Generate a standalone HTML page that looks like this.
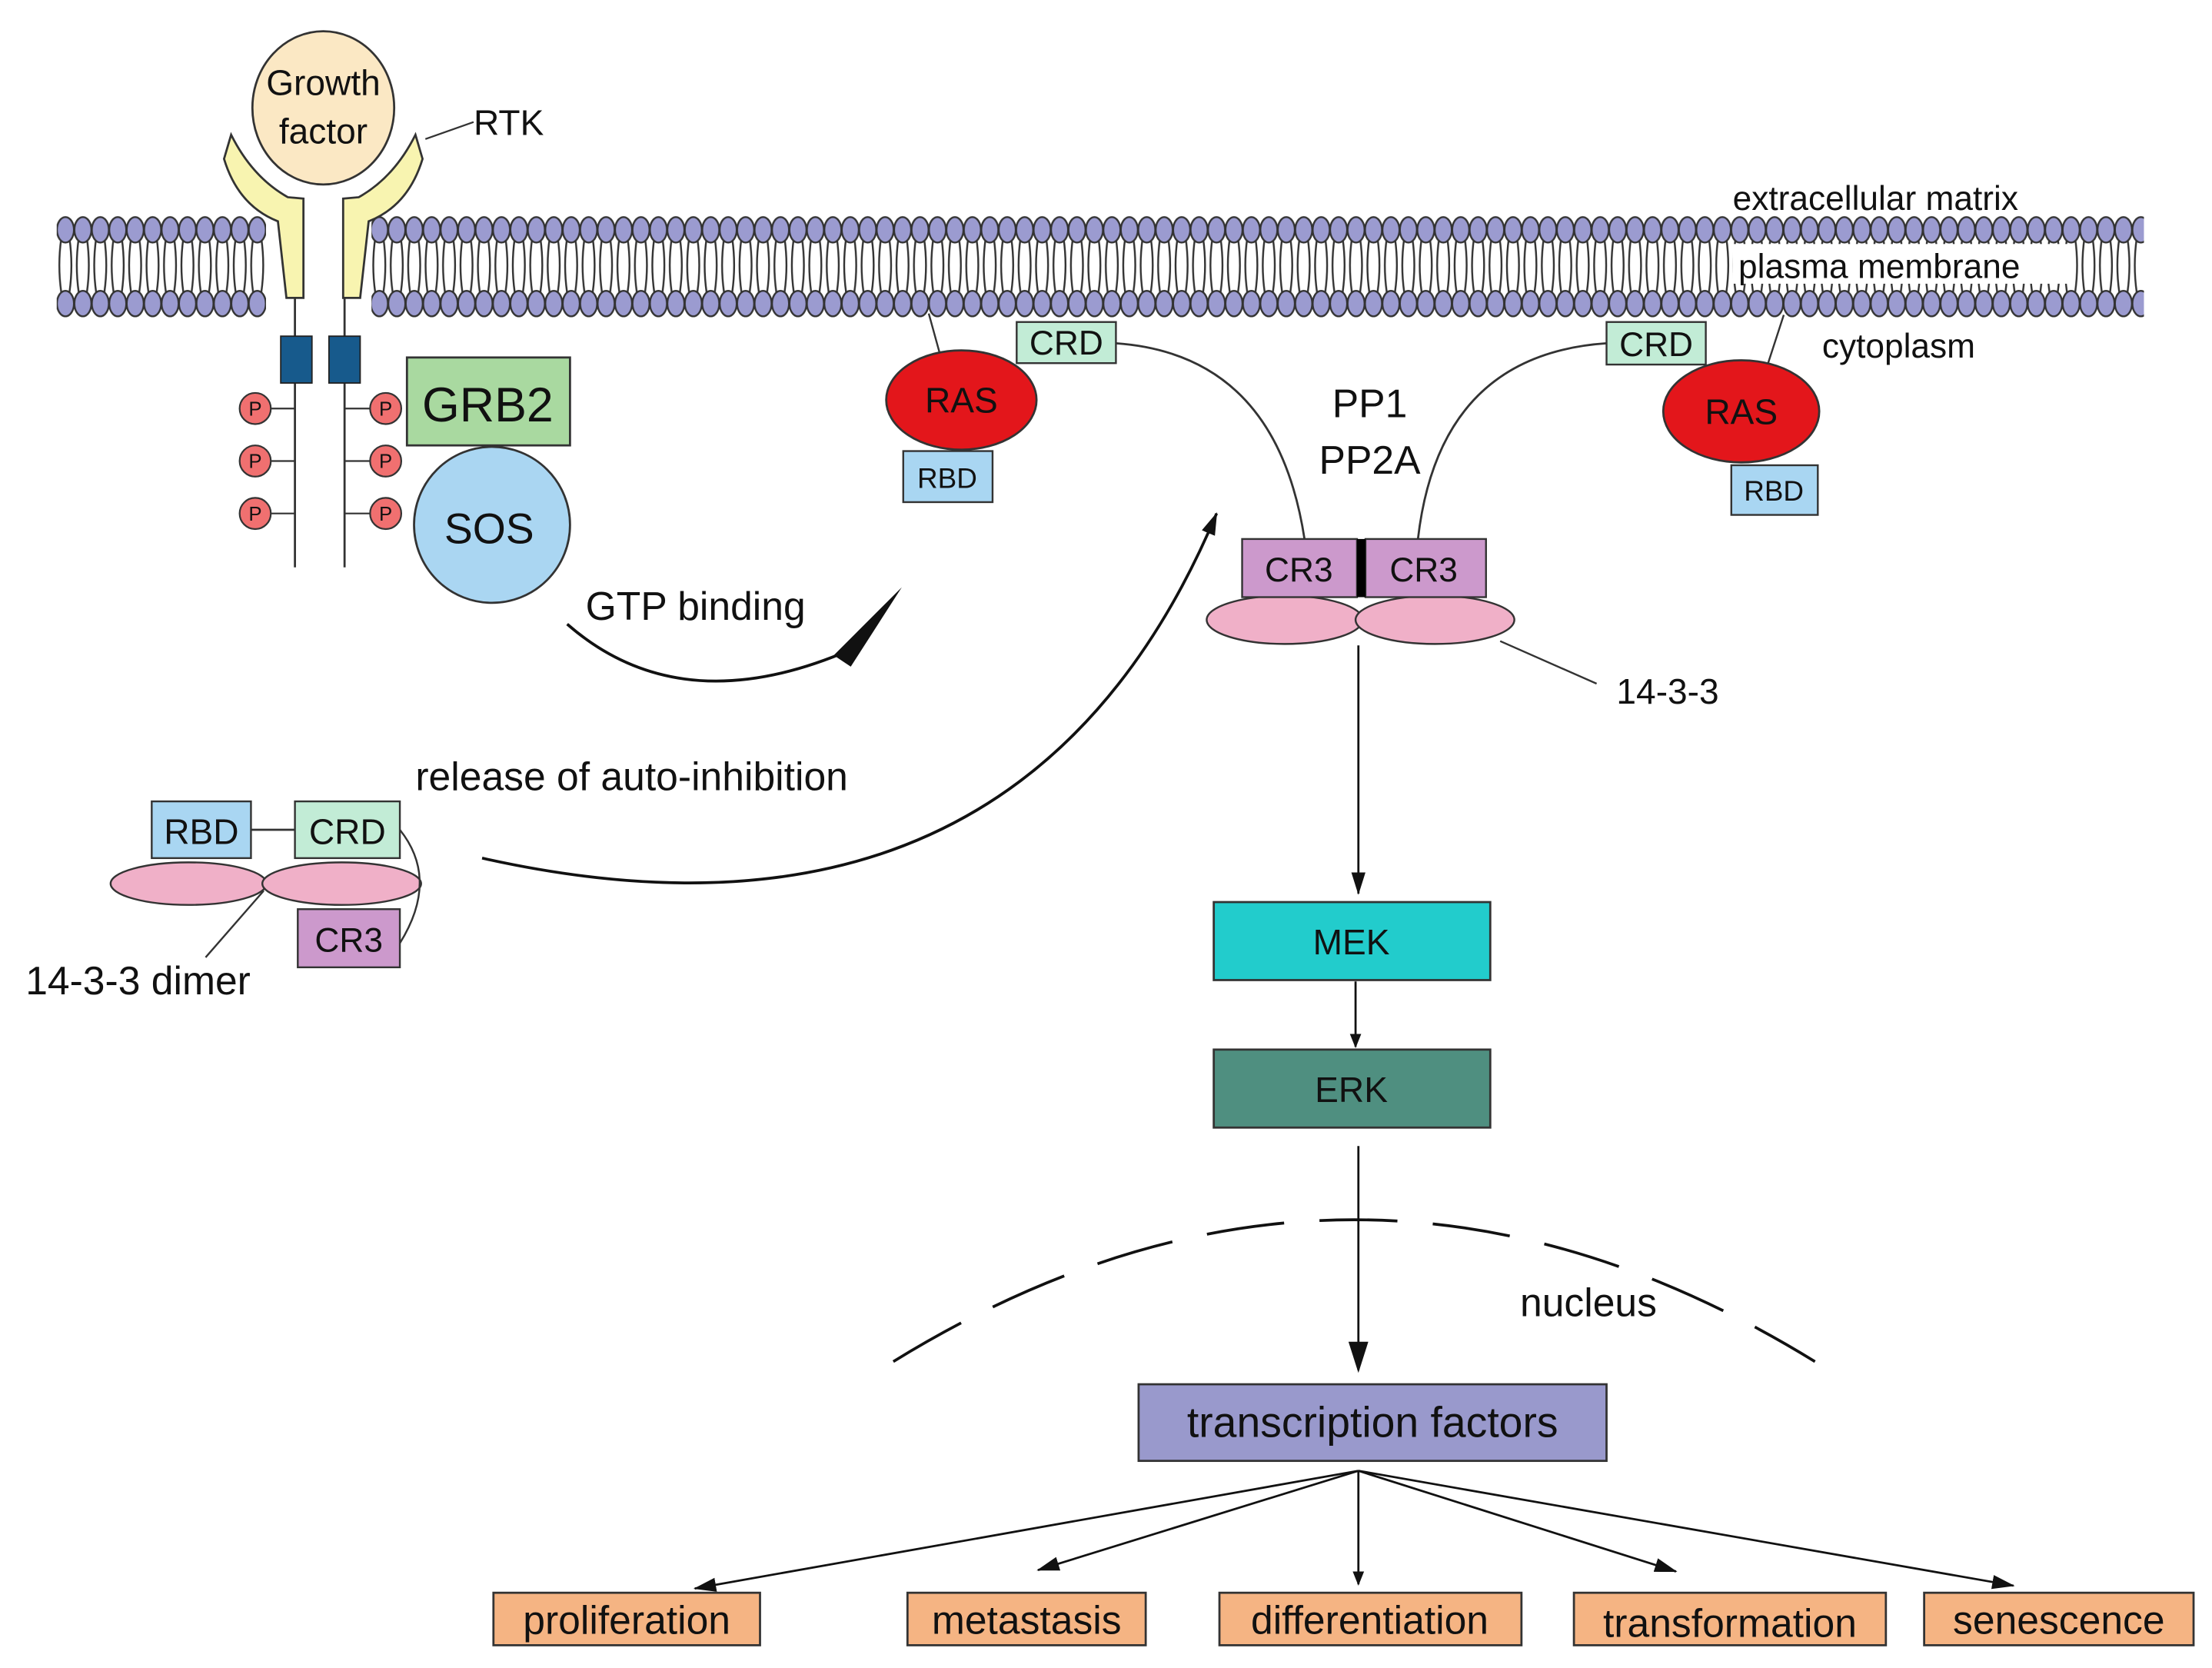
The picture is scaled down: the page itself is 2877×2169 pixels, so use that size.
<!DOCTYPE html>
<html><head><meta charset="utf-8"><style>
html,body{margin:0;padding:0;background:#fff}
svg{display:block}
text{font-family:"Liberation Sans",Arial,sans-serif;fill:#111}
</style></head><body>
<svg width="2877" height="2169" viewBox="0 0 1560 1176" xmlns="http://www.w3.org/2000/svg">
<defs>
<pattern id="mem" x="40" y="150" width="12.3" height="76" patternUnits="userSpaceOnUse">
<path d="M3.2 18 Q0.5 37 3.2 56 M9 18 Q11.7 37 9 56" fill="none" stroke="#333" stroke-width="1.3"/>
<ellipse cx="6.15" cy="12" rx="6" ry="9" fill="#9b9bd0" stroke="#333" stroke-width="1.3"/>
<ellipse cx="6.15" cy="64" rx="6" ry="9" fill="#9b9bd0" stroke="#333" stroke-width="1.3"/>
</pattern>
<marker id="ah" markerWidth="10" markerHeight="10" refX="9" refY="5" orient="auto" markerUnits="userSpaceOnUse"><path d="M0 1 L10 5 L0 9z" fill="#111"/></marker>
<marker id="ahb" markerWidth="22" markerHeight="14" refX="20" refY="7" orient="auto" markerUnits="userSpaceOnUse"><path d="M0 0 L22 7 L0 14z" fill="#111"/></marker>
<marker id="ahm" markerWidth="16" markerHeight="10" refX="15" refY="5" orient="auto" markerUnits="userSpaceOnUse"><path d="M0 0 L16 5 L0 10z" fill="#111"/></marker>
</defs>
<rect x="40" y="150" width="147.6" height="76" fill="url(#mem)"/>
<rect x="262" y="150" width="1250" height="76" fill="url(#mem)"/>
<text x="1222" y="148" font-size="24">extracellular matrix</text>
<rect x="1222" y="172" width="240" height="28" fill="#fff"/>
<text x="1226" y="196" font-size="24">plasma membrane</text>
<text x="1285" y="252" font-size="24">cytoplasm</text>
<path d="M163 95 L158 112 Q168 145 196 156 L202 210 L214 210 L214 140 L203 139 Q178 125 163 95z" fill="#f8f4b0" stroke="#333" stroke-width="1.5"/>
<path d="M293 95 L298 112 Q288 145 260 156 L254 210 L242 210 L242 140 L253 139 Q278 125 293 95z" fill="#f8f4b0" stroke="#333" stroke-width="1.5"/>
<ellipse cx="228" cy="76" rx="50" ry="54" fill="#fbe8c4" stroke="#333" stroke-width="1.5"/>
<text x="228" y="67" font-size="25" text-anchor="middle">Growth</text>
<text x="228" y="101" font-size="25" text-anchor="middle">factor</text>
<line x1="300" y1="98" x2="334" y2="86" stroke="#333" stroke-width="1.2"/>
<text x="334" y="95" font-size="25">RTK</text>
<line x1="208" y1="210" x2="208" y2="400" stroke="#333" stroke-width="1.5"/>
<line x1="243" y1="210" x2="243" y2="400" stroke="#333" stroke-width="1.5"/>
<rect x="198" y="237" width="22" height="33" fill="#175a8c" stroke="#222"/>
<rect x="232" y="237" width="22" height="33" fill="#175a8c" stroke="#222"/>
<g stroke="#333" stroke-width="1.2">
<line x1="190" y1="288" x2="208" y2="288"/><line x1="190" y1="325" x2="208" y2="325"/><line x1="190" y1="362" x2="208" y2="362"/>
<line x1="243" y1="288" x2="262" y2="288"/><line x1="243" y1="325" x2="262" y2="325"/><line x1="243" y1="362" x2="262" y2="362"/>
</g>
<g fill="#f07070" stroke="#333" stroke-width="1.2">
<circle cx="180" cy="288" r="11"/><circle cx="180" cy="325" r="11"/><circle cx="180" cy="362" r="11"/>
<circle cx="272" cy="288" r="11"/><circle cx="272" cy="325" r="11"/><circle cx="272" cy="362" r="11"/>
</g>
<g font-size="14" text-anchor="middle">
<text x="180" y="293">P</text><text x="180" y="330">P</text><text x="180" y="367">P</text>
<text x="272" y="293">P</text><text x="272" y="330">P</text><text x="272" y="367">P</text>
</g>
<rect x="287" y="252" width="115" height="62" fill="#a9d9a0" stroke="#333" stroke-width="1.5"/>
<text x="344" y="297" font-size="34" text-anchor="middle">GRB2</text>
<circle cx="347" cy="370" r="55" fill="#aad6f2" stroke="#333" stroke-width="1.5"/>
<text x="345" y="383" font-size="30" text-anchor="middle">SOS</text>
<path d="M400 440 Q480 510 600 458" fill="none" stroke="#111" stroke-width="2"/>
<path d="M588 462 L636 414 L600 470z" fill="#111"/>
<text x="413" y="437" font-size="28">GTP binding</text>
<line x1="663" y1="250" x2="655" y2="221" stroke="#333" stroke-width="1.3"/>
<ellipse cx="678" cy="282" rx="53" ry="35" fill="#e3161b" stroke="#333" stroke-width="1.5"/>
<text x="678" y="291" font-size="25" text-anchor="middle">RAS</text>
<rect x="717" y="227" width="70" height="29" fill="#c2ecd6" stroke="#333" stroke-width="1.3"/>
<text x="752" y="250" font-size="24" text-anchor="middle">CRD</text>
<rect x="637" y="318" width="63" height="36" fill="#a9d6f2" stroke="#333" stroke-width="1.3"/>
<text x="668" y="344" font-size="20" text-anchor="middle">RBD</text>
<line x1="1245" y1="262" x2="1258" y2="222" stroke="#333" stroke-width="1.3"/>
<rect x="1133" y="227" width="70" height="30" fill="#c2ecd6" stroke="#333" stroke-width="1.3"/>
<text x="1168" y="251" font-size="24" text-anchor="middle">CRD</text>
<ellipse cx="1228" cy="290" rx="55" ry="36" fill="#e3161b" stroke="#333" stroke-width="1.5"/>
<text x="1228" y="299" font-size="25" text-anchor="middle">RAS</text>
<rect x="1221" y="328" width="61" height="35" fill="#a9d6f2" stroke="#333" stroke-width="1.3"/>
<text x="1251" y="353" font-size="20" text-anchor="middle">RBD</text>
<path d="M787 242 Q900 250 920 380" fill="none" stroke="#333" stroke-width="1.5"/>
<path d="M1000 380 Q1015 250 1133 242" fill="none" stroke="#333" stroke-width="1.5"/>
<text x="966" y="294" font-size="28" text-anchor="middle">PP1</text>
<text x="966" y="334" font-size="28" text-anchor="middle">PP2A</text>
<ellipse cx="906" cy="437" rx="55" ry="17" fill="#f0b0c8" stroke="#333" stroke-width="1.3"/>
<ellipse cx="1012" cy="437" rx="56" ry="17" fill="#f0b0c8" stroke="#333" stroke-width="1.3"/>
<rect x="876" y="380" width="81" height="41" fill="#cc99cc" stroke="#333" stroke-width="1.3"/>
<rect x="963" y="380" width="85" height="41" fill="#cc99cc" stroke="#333" stroke-width="1.3"/>
<rect x="957" y="380" width="6" height="41" fill="#000"/>
<text x="916" y="410" font-size="24" text-anchor="middle">CR3</text>
<text x="1004" y="410" font-size="24" text-anchor="middle">CR3</text>
<line x1="1058" y1="452" x2="1126" y2="482" stroke="#333" stroke-width="1.3"/>
<text x="1140" y="496" font-size="25">14-3-3</text>
<path d="M340 605 Q720 690 858 362" fill="none" stroke="#111" stroke-width="2" marker-end="url(#ahm)"/>
<text x="293" y="557" font-size="28">release of auto-inhibition</text>
<line x1="177" y1="585" x2="208" y2="585" stroke="#333" stroke-width="1.5"/>
<rect x="107" y="565" width="70" height="40" fill="#a9d6f2" stroke="#333" stroke-width="1.3"/>
<text x="142" y="595" font-size="25" text-anchor="middle">RBD</text>
<rect x="208" y="565" width="74" height="40" fill="#c2ecd6" stroke="#333" stroke-width="1.3"/>
<text x="245" y="595" font-size="25" text-anchor="middle">CRD</text>
<ellipse cx="133" cy="623" rx="55" ry="15" fill="#f0b0c8" stroke="#333" stroke-width="1.3"/>
<ellipse cx="241" cy="623" rx="56" ry="15" fill="#f0b0c8" stroke="#333" stroke-width="1.3"/>
<path d="M282 585 Q310 620 282 665" fill="none" stroke="#333" stroke-width="1.3"/>
<rect x="210" y="641" width="72" height="41" fill="#cc99cc" stroke="#333" stroke-width="1.3"/>
<text x="246" y="671" font-size="24" text-anchor="middle">CR3</text>
<line x1="186" y1="628" x2="145" y2="675" stroke="#333" stroke-width="1.3"/>
<text x="18" y="701" font-size="28">14-3-3 dimer</text>
<line x1="958" y1="455" x2="958" y2="630" stroke="#111" stroke-width="1.5" marker-end="url(#ahm)"/>
<rect x="856" y="636" width="195" height="55" fill="#22cccc" stroke="#333" stroke-width="1.5"/>
<text x="953" y="673" font-size="25" text-anchor="middle">MEK</text>
<line x1="956" y1="692" x2="956" y2="738" stroke="#111" stroke-width="1.5" marker-end="url(#ah)"/>
<rect x="856" y="740" width="195" height="55" fill="#4f8f80" stroke="#333" stroke-width="1.5"/>
<text x="953" y="777" font-size="25" text-anchor="middle">ERK</text>
<line x1="958" y1="808" x2="958" y2="966" stroke="#111" stroke-width="1.5" marker-end="url(#ahb)"/>
<path d="M630 960 Q955 760 1280 960" fill="none" stroke="#111" stroke-width="2" stroke-dasharray="55 25"/>
<text x="1072" y="928" font-size="28">nucleus</text>
<rect x="803" y="976" width="330" height="54" fill="#9999cc" stroke="#333" stroke-width="1.5"/>
<text x="968" y="1013" font-size="30" text-anchor="middle">transcription factors</text>
<g stroke="#111" stroke-width="1.5" fill="none">
<line x1="958" y1="1037" x2="490" y2="1120" marker-end="url(#ahm)"/>
<line x1="958" y1="1037" x2="732" y2="1107" marker-end="url(#ahm)"/>
<line x1="958" y1="1037" x2="958" y2="1117" marker-end="url(#ah)"/>
<line x1="958" y1="1037" x2="1182" y2="1108" marker-end="url(#ahm)"/>
<line x1="958" y1="1037" x2="1420" y2="1118" marker-end="url(#ahm)"/>
</g>
<g fill="#f5b483" stroke="#333" stroke-width="1.5">
<rect x="348" y="1123" width="188" height="37"/>
<rect x="640" y="1123" width="168" height="37"/>
<rect x="860" y="1123" width="213" height="37"/>
<rect x="1110" y="1123" width="220" height="37"/>
<rect x="1357" y="1123" width="190" height="37"/>
</g>
<g font-size="28" text-anchor="middle">
<text x="442" y="1152">proliferation</text>
<text x="724" y="1152">metastasis</text>
<text x="966" y="1152">differentiation</text>
<text x="1220" y="1154">transformation</text>
<text x="1452" y="1152">senescence</text>
</g>
</svg>
</body></html>
